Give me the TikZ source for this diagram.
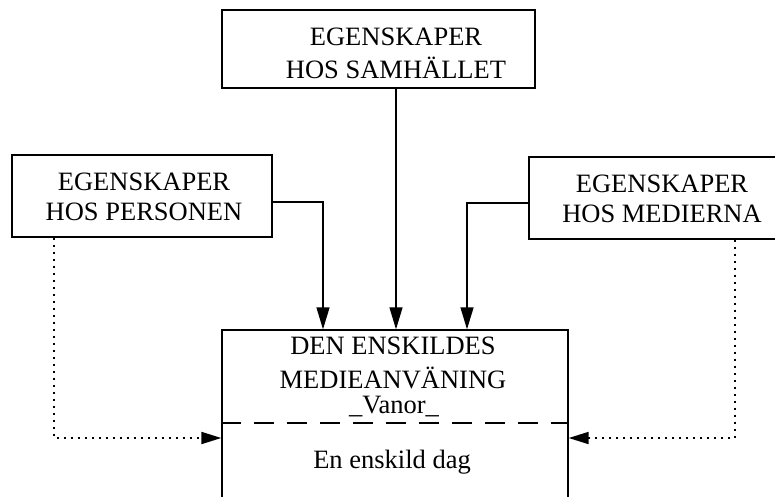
\documentclass[tikz,border=0pt]{standalone}
\usepackage{fontspec}
\setmainfont{Liberation Serif}
\usetikzlibrary{arrows.meta}
\begin{document}
\begin{tikzpicture}[x=1pt,y=-1pt,
  box/.style={draw,line width=1.4pt,inner sep=0pt,rectangle},
  lbl/.style={anchor=base,inner sep=0pt,font=\fontsize{26.5}{30}\selectfont},
  arr/.style={line width=1.4pt,-{Triangle[length=22pt,width=13pt]}},
  dotarr/.style={line width=2pt,dash pattern=on 2pt off 5pt,-{Triangle[length=20pt,width=12pt]}}]
\useasboundingbox (0,0) rectangle (775,496);
% boxes
\node[box,minimum width=313pt,minimum height=78pt] (sam) at (378.5,49) {};
\node[box,minimum width=260pt,minimum height=82pt] (pers) at (142,196) {};
\node[box,minimum width=266pt,minimum height=82pt] (med) at (662,198) {};
\node[box,minimum width=346pt,minimum height=200pt] (main) at (395,430) {};
% texts
\node[lbl] (s1) at (396,45) {EGENSKAPER};
\node[lbl] (s2) at (396,78) {HOS SAMHÄLLET};
\node[lbl] (p1) at (144,190) {EGENSKAPER};
\node[lbl] (p2) at (144,220) {HOS PERSONEN};
\node[lbl] (m1) at (662,192) {EGENSKAPER};
\node[lbl] (m2) at (662,222) {HOS MEDIERNA};
\node[lbl] (d1) at (393,354) {DEN ENSKILDES};
\node[lbl] (d2) at (393,388) {MEDIEANVÄNING};
\node[lbl] (d3) at (394,413) {\_Vanor\_};
\node[lbl] (d4) at (392,468) {En enskild dag};
% dashed separator
\coordinate (sep) at (395,423);
\draw[line width=1.6pt,dash pattern=on 20pt off 13pt] (main.west |- sep) -- (main.east |- sep);
% connectors
\coordinate (cT) at (396,0);
\coordinate (cL) at (323,202);
\coordinate (cR) at (467,203);
\coordinate (cDL) at (54,438);
\coordinate (cDR) at (735,438);
\draw[arr] (sam.south -| cT) -- (main.north -| cT);
\draw[arr] (pers.east |- cL) -- (cL) -- (main.north -| cL);
\draw[arr] (med.west |- cR) -- (cR) -- (main.north -| cR);
\draw[dotarr] (pers.south -| cDL) -- (cDL) -- (main.west |- cDL);
\draw[dotarr] (med.south -| cDR) -- (cDR) -- (main.east |- cDR);
\end{tikzpicture}
\end{document}
